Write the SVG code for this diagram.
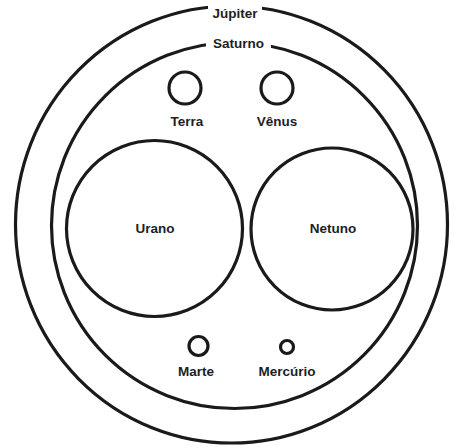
<svg xmlns="http://www.w3.org/2000/svg" width="461" height="448" viewBox="0 0 461 448">
<style>
.ring{fill:none;stroke:#1a1a1a;stroke-width:3.2}
.lbl{font-family:"Liberation Sans",Arial,sans-serif;font-weight:bold;font-size:13.5px;fill:#1e1e1e;text-anchor:middle}
</style>
<rect width="461" height="448" fill="#fff"/>
<g id="jupiter">
<ellipse class="ring" cx="231.5" cy="224.5" rx="216" ry="218.5"/>
<rect x="208" y="3" width="54" height="18" fill="#fff"/>
<text class="lbl" x="235" y="18">Júpiter</text>
</g>
<g id="saturno">
<circle class="ring" cx="234.5" cy="225.5" r="183"/>
<rect x="206" y="36" width="65" height="14" fill="#fff"/>
<text class="lbl" x="238.5" y="47.5">Saturno</text>
</g>
<g id="terra">
<circle class="ring" cx="185" cy="88" r="16"/>
<text class="lbl" x="187" y="126">Terra</text>
</g>
<g id="venus">
<circle class="ring" cx="277" cy="88" r="16"/>
<text class="lbl" x="277" y="126">Vênus</text>
</g>
<g id="urano">
<circle class="ring" cx="154.5" cy="228.5" r="88"/>
<text class="lbl" x="155" y="233">Urano</text>
</g>
<g id="netuno">
<circle class="ring" cx="332" cy="229" r="81"/>
<text class="lbl" x="333" y="233">Netuno</text>
</g>
<g id="marte">
<circle class="ring" cx="198.5" cy="346" r="9.5"/>
<text class="lbl" x="196" y="376">Marte</text>
</g>
<g id="mercurio">
<circle class="ring" cx="287" cy="347" r="6.5"/>
<text class="lbl" x="287" y="376">Mercúrio</text>
</g>
<g id="connectors"></g>
</svg>
